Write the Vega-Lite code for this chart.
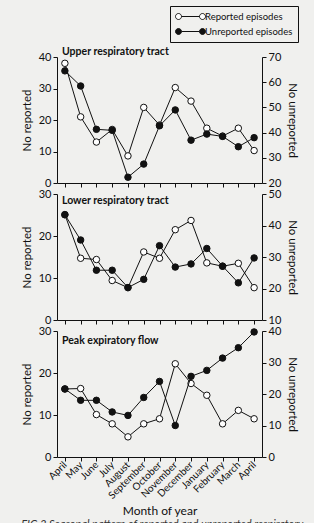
{
  "$schema": "https://vega.github.io/schema/vega-lite/v6.json",
  "background": "#f0f0ee",
  "padding": {"left": 21, "top": 5, "right": 5, "bottom": 0},
  "config": {
    "font": "Lato",
    "view": {"stroke": null},
    "axis": {"labelFont": "Lato", "titleFont": "Lato", "labelColor": "#111", "titleColor": "#111", "domainColor": "#111", "tickColor": "#111", "labelFontSize": 11, "titleFontSize": 11.5, "titleFontWeight": "normal", "grid": false, "tickSize": 4},
    "legend": {"labelFont": "Lato", "labelFontSize": 9.5, "labelColor": "#111"}
  },
  "data": {"values": [
    {"p": "U", "i": 1, "s": "Reported episodes", "v": 38},
    {"p": "U", "i": 2, "s": "Reported episodes", "v": 21},
    {"p": "U", "i": 3, "s": "Reported episodes", "v": 13},
    {"p": "U", "i": 4, "s": "Reported episodes", "v": 17},
    {"p": "U", "i": 5, "s": "Reported episodes", "v": 8.6},
    {"p": "U", "i": 6, "s": "Reported episodes", "v": 24},
    {"p": "U", "i": 7, "s": "Reported episodes", "v": 18.4},
    {"p": "U", "i": 8, "s": "Reported episodes", "v": 30.3},
    {"p": "U", "i": 9, "s": "Reported episodes", "v": 26},
    {"p": "U", "i": 10, "s": "Reported episodes", "v": 17.4},
    {"p": "U", "i": 11, "s": "Reported episodes", "v": 14.9},
    {"p": "U", "i": 12, "s": "Reported episodes", "v": 17.4},
    {"p": "U", "i": 13, "s": "Reported episodes", "v": 10.3},
    {"p": "U", "i": 1, "s": "Unreported episodes", "v": 64.5},
    {"p": "U", "i": 2, "s": "Unreported episodes", "v": 58.5},
    {"p": "U", "i": 3, "s": "Unreported episodes", "v": 41.3},
    {"p": "U", "i": 4, "s": "Unreported episodes", "v": 40.9},
    {"p": "U", "i": 5, "s": "Unreported episodes", "v": 22.3},
    {"p": "U", "i": 6, "s": "Unreported episodes", "v": 27.5},
    {"p": "U", "i": 7, "s": "Unreported episodes", "v": 42.7},
    {"p": "U", "i": 8, "s": "Unreported episodes", "v": 49},
    {"p": "U", "i": 9, "s": "Unreported episodes", "v": 37},
    {"p": "U", "i": 10, "s": "Unreported episodes", "v": 39.4},
    {"p": "U", "i": 11, "s": "Unreported episodes", "v": 38.5},
    {"p": "U", "i": 12, "s": "Unreported episodes", "v": 34.4},
    {"p": "U", "i": 13, "s": "Unreported episodes", "v": 38},
    {"p": "L", "i": 1, "s": "Reported episodes", "v": 25.1},
    {"p": "L", "i": 2, "s": "Reported episodes", "v": 14.7},
    {"p": "L", "i": 3, "s": "Reported episodes", "v": 14.4},
    {"p": "L", "i": 4, "s": "Reported episodes", "v": 9.4},
    {"p": "L", "i": 5, "s": "Reported episodes", "v": 7.7},
    {"p": "L", "i": 6, "s": "Reported episodes", "v": 16.2},
    {"p": "L", "i": 7, "s": "Reported episodes", "v": 14.7},
    {"p": "L", "i": 8, "s": "Reported episodes", "v": 21.5},
    {"p": "L", "i": 9, "s": "Reported episodes", "v": 23.7},
    {"p": "L", "i": 10, "s": "Reported episodes", "v": 13.6},
    {"p": "L", "i": 11, "s": "Reported episodes", "v": 12.8},
    {"p": "L", "i": 12, "s": "Reported episodes", "v": 13.5},
    {"p": "L", "i": 13, "s": "Reported episodes", "v": 7.7},
    {"p": "L", "i": 1, "s": "Unreported episodes", "v": 43.4},
    {"p": "L", "i": 2, "s": "Unreported episodes", "v": 35.4},
    {"p": "L", "i": 3, "s": "Unreported episodes", "v": 25.8},
    {"p": "L", "i": 4, "s": "Unreported episodes", "v": 25.8},
    {"p": "L", "i": 5, "s": "Unreported episodes", "v": 20.3},
    {"p": "L", "i": 6, "s": "Unreported episodes", "v": 22.9},
    {"p": "L", "i": 7, "s": "Unreported episodes", "v": 33.6},
    {"p": "L", "i": 8, "s": "Unreported episodes", "v": 26.8},
    {"p": "L", "i": 9, "s": "Unreported episodes", "v": 27.8},
    {"p": "L", "i": 10, "s": "Unreported episodes", "v": 32.7},
    {"p": "L", "i": 11, "s": "Unreported episodes", "v": 27.1},
    {"p": "L", "i": 12, "s": "Unreported episodes", "v": 21.8},
    {"p": "L", "i": 13, "s": "Unreported episodes", "v": 29.7},
    {"p": "P", "i": 1, "s": "Reported episodes", "v": 16.2},
    {"p": "P", "i": 2, "s": "Reported episodes", "v": 16.3},
    {"p": "P", "i": 3, "s": "Reported episodes", "v": 10.1},
    {"p": "P", "i": 4, "s": "Reported episodes", "v": 7.9},
    {"p": "P", "i": 5, "s": "Reported episodes", "v": 4.8},
    {"p": "P", "i": 6, "s": "Reported episodes", "v": 7.9},
    {"p": "P", "i": 7, "s": "Reported episodes", "v": 9.1},
    {"p": "P", "i": 8, "s": "Reported episodes", "v": 22.2},
    {"p": "P", "i": 9, "s": "Reported episodes", "v": 17.5},
    {"p": "P", "i": 10, "s": "Reported episodes", "v": 14.7},
    {"p": "P", "i": 11, "s": "Reported episodes", "v": 7.9},
    {"p": "P", "i": 12, "s": "Reported episodes", "v": 11.1},
    {"p": "P", "i": 13, "s": "Reported episodes", "v": 9.1},
    {"p": "P", "i": 1, "s": "Unreported episodes", "v": 21.6},
    {"p": "P", "i": 2, "s": "Unreported episodes", "v": 18},
    {"p": "P", "i": 3, "s": "Unreported episodes", "v": 18},
    {"p": "P", "i": 4, "s": "Unreported episodes", "v": 14.3},
    {"p": "P", "i": 5, "s": "Unreported episodes", "v": 13.2},
    {"p": "P", "i": 6, "s": "Unreported episodes", "v": 18.9},
    {"p": "P", "i": 7, "s": "Unreported episodes", "v": 24},
    {"p": "P", "i": 8, "s": "Unreported episodes", "v": 10},
    {"p": "P", "i": 9, "s": "Unreported episodes", "v": 25.6},
    {"p": "P", "i": 10, "s": "Unreported episodes", "v": 27.5},
    {"p": "P", "i": 11, "s": "Unreported episodes", "v": 31.4},
    {"p": "P", "i": 12, "s": "Unreported episodes", "v": 34.7},
    {"p": "P", "i": 13, "s": "Unreported episodes", "v": 39.7}
  ]},
  "title": {"text": "FIG 2   Seasonal pattern of reported and unreported respiratory", "orient": "bottom", "anchor": "start", "frame": "bounds", "font": "Lato", "fontStyle": "italic", "fontWeight": "normal", "fontSize": 11, "color": "#333", "offset": 3},
  "spacing": 11,
  "bounds": "flush",
  "vconcat": [
    {
      "width": 205, "height": 126,
      "title": {"text": "Upper respiratory tract", "anchor": "start", "frame": "group", "dx": 5, "offset": -6, "fontSize": 10.5, "fontWeight": "bold", "font": "Lato", "color": "#111"},
      "transform": [{"filter": "datum.p == 'U'"}],
      "encoding": {"x": {"field": "i", "type": "quantitative", "scale": {"domain": [0.5, 13.5], "nice": false, "zero": false}, "axis": {"values": [1,2,3,4,5,6,7,8,9,10,11,12,13], "labels": false, "title": null}}},
      "layer": [
        {
          "transform": [{"filter": "datum.s == 'Reported episodes'"}],
          "encoding": {"y": {"field": "v", "type": "quantitative", "scale": {"domain": [0, 40]}, "axis": {"values": [0,10,20,30,40], "title": "No reported", "titlePadding": 6}}},
          "layer": [
            {"mark": {"type": "line", "color": "#111", "strokeWidth": 1}},
            {"mark": {"type": "point", "filled": true, "size": 42, "stroke": "#111", "strokeWidth": 1, "opacity": 1},
             "encoding": {"fill": {"field": "s", "type": "nominal", "scale": {"domain": ["Reported episodes", "Unreported episodes"], "range": ["white", "#111"]},
               "legend": {"title": null, "orient": "none", "legendX": 113, "legendY": -51, "strokeColor": "#111", "padding": 5, "rowPadding": 4, "symbolType": "M-0.4,0 M0.2,0 L3.8,0 M-1,0 a0.6,0.6 0 1,0 1.2,0 a0.6,0.6 0 1,0 -1.2,0 M3.8,0 a0.6,0.6 0 1,0 1.2,0 a0.6,0.6 0 1,0 -1.2,0", "symbolSize": 100, "symbolStrokeColor": "#111", "symbolStrokeWidth": 1, "symbolOpacity": 1, "labelOffset": 19}}}}
          ]
        },
        {
          "transform": [{"filter": "datum.s == 'Unreported episodes'"}],
          "encoding": {"y": {"field": "v", "type": "quantitative", "scale": {"domain": [20, 70], "zero": false}, "axis": {"orient": "right", "values": [20,30,40,50,60,70], "title": "No unreported", "titlePadding": 6}}},
          "layer": [
            {"mark": {"type": "line", "color": "#111", "strokeWidth": 1}},
            {"mark": {"type": "point", "filled": true, "size": 42, "stroke": "#111", "strokeWidth": 1, "opacity": 1},
             "encoding": {"fill": {"field": "s", "type": "nominal"}}}
          ]
        }
      ],
      "resolve": {"scale": {"y": "independent"}}
    },
    {
      "width": 205, "height": 126,
      "title": {"text": "Lower respiratory tract", "anchor": "start", "frame": "group", "dx": 5, "offset": -18, "fontSize": 10.5, "fontWeight": "bold", "font": "Lato", "color": "#111"},
      "transform": [{"filter": "datum.p == 'L'"}],
      "encoding": {"x": {"field": "i", "type": "quantitative", "scale": {"domain": [0.5, 13.5], "nice": false, "zero": false}, "axis": {"values": [1,2,3,4,5,6,7,8,9,10,11,12,13], "labels": false, "title": null}}},
      "layer": [
        {
          "transform": [{"filter": "datum.s == 'Reported episodes'"}],
          "encoding": {"y": {"field": "v", "type": "quantitative", "scale": {"domain": [0, 30]}, "axis": {"values": [0,10,20,30], "title": "No reported", "titlePadding": 6}}},
          "layer": [
            {"mark": {"type": "line", "color": "#111", "strokeWidth": 1}},
            {"mark": {"type": "point", "filled": true, "size": 42, "stroke": "#111", "strokeWidth": 1, "opacity": 1},
             "encoding": {"fill": {"field": "s", "type": "nominal"}}}
          ]
        },
        {
          "transform": [{"filter": "datum.s == 'Unreported episodes'"}],
          "encoding": {"y": {"field": "v", "type": "quantitative", "scale": {"domain": [10, 50], "zero": false}, "axis": {"orient": "right", "values": [10,20,30,40,50], "title": "No unreported", "titlePadding": 6}}},
          "layer": [
            {"mark": {"type": "line", "color": "#111", "strokeWidth": 1}},
            {"mark": {"type": "point", "filled": true, "size": 42, "stroke": "#111", "strokeWidth": 1, "opacity": 1},
             "encoding": {"fill": {"field": "s", "type": "nominal"}}}
          ]
        }
      ],
      "resolve": {"scale": {"y": "independent"}}
    },
    {
      "width": 205, "height": 126,
      "title": {"text": "Peak expiratory flow", "anchor": "start", "frame": "group", "dx": 5, "offset": -21, "fontSize": 10.5, "fontWeight": "bold", "font": "Lato", "color": "#111"},
      "transform": [{"filter": "datum.p == 'P'"}],
      "encoding": {"x": {"field": "i", "type": "quantitative", "scale": {"domain": [0.5, 13.5], "nice": false, "zero": false}, "axis": {"values": [1,2,3,4,5,6,7,8,9,10,11,12,13], "labelExpr": "['April','May','June','July','August','September','October','November','December','January','February','March','April'][datum.value - 1]", "labelAngle": -45, "labelAlign": "right", "labelBaseline": "middle", "labelFontSize": 10, "labelPadding": 2, "labelOverlap": false, "labelFlush": false, "title": "Month of year", "titleFontSize": 12, "titlePadding": 5}}},
      "layer": [
        {
          "transform": [{"filter": "datum.s == 'Reported episodes'"}],
          "encoding": {"y": {"field": "v", "type": "quantitative", "scale": {"domain": [0, 30]}, "axis": {"values": [0,10,20,30], "title": "No reported", "titlePadding": 6}}},
          "layer": [
            {"mark": {"type": "line", "color": "#111", "strokeWidth": 1}},
            {"mark": {"type": "point", "filled": true, "size": 42, "stroke": "#111", "strokeWidth": 1, "opacity": 1},
             "encoding": {"fill": {"field": "s", "type": "nominal"}}}
          ]
        },
        {
          "transform": [{"filter": "datum.s == 'Unreported episodes'"}],
          "encoding": {"y": {"field": "v", "type": "quantitative", "scale": {"domain": [0, 40]}, "axis": {"orient": "right", "values": [0,10,20,30,40], "title": "No unreported", "titlePadding": 6}}},
          "layer": [
            {"mark": {"type": "line", "color": "#111", "strokeWidth": 1}},
            {"mark": {"type": "point", "filled": true, "size": 42, "stroke": "#111", "strokeWidth": 1, "opacity": 1},
             "encoding": {"fill": {"field": "s", "type": "nominal"}}}
          ]
        }
      ],
      "resolve": {"scale": {"y": "independent"}}
    }
  ]
}
